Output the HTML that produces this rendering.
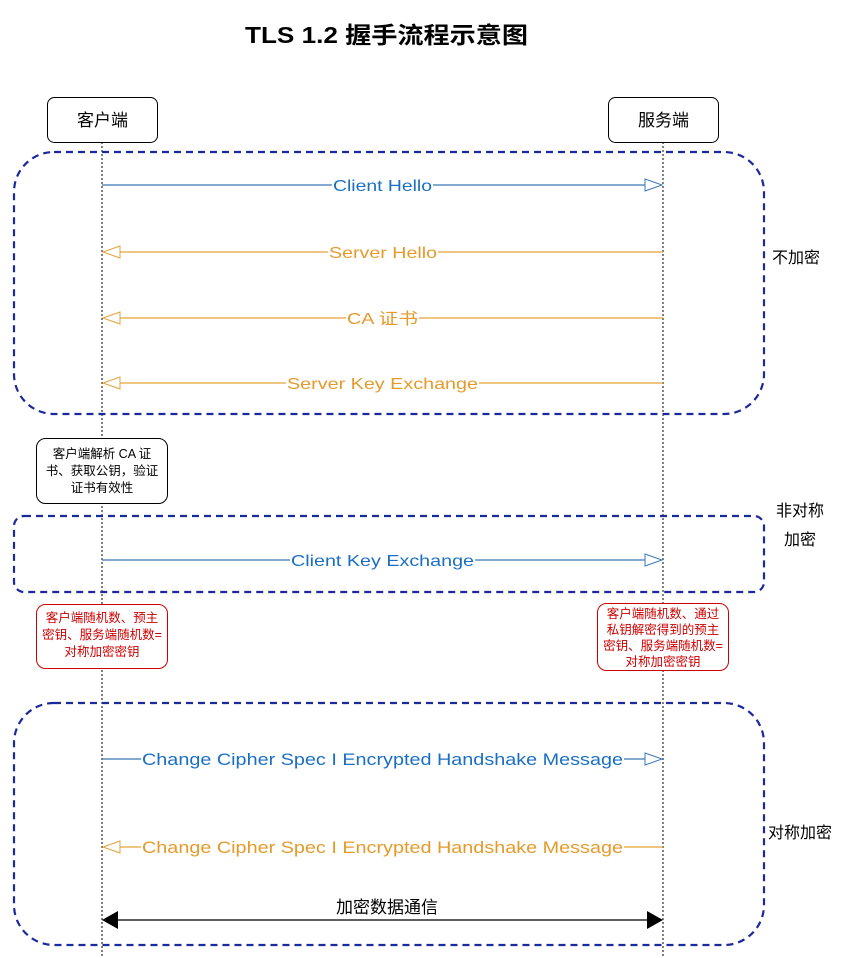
<!DOCTYPE html>
<html><head><meta charset="utf-8"><style>
html,body{margin:0;padding:0;background:#fff;}
svg{display:block;}
text{font-family:"Liberation Sans","Noto Sans CJK SC",sans-serif;}
</style></head><body>
<svg width="861" height="958" viewBox="0 0 861 958" xmlns="http://www.w3.org/2000/svg">
<text x="245" y="43" font-size="23" font-weight="bold" fill="#000" textLength="283" lengthAdjust="spacingAndGlyphs">TLS 1.2 握手流程示意图</text>

<!-- lifelines -->
<line x1="102" y1="142" x2="102" y2="958" stroke="#000" stroke-width="1" stroke-dasharray="2,2"/>
<line x1="663" y1="142" x2="663" y2="958" stroke="#000" stroke-width="1" stroke-dasharray="2,2"/>

<!-- participants -->
<rect x="47.5" y="97.5" width="110" height="45" rx="7" fill="#fff" stroke="#000"/>
<text x="102.5" y="126" text-anchor="middle" font-size="17">客户端</text>
<rect x="608.5" y="97.5" width="110" height="45" rx="7" fill="#fff" stroke="#000"/>
<text x="663.5" y="126" text-anchor="middle" font-size="17">服务端</text>

<!-- groups -->
<g fill="none" stroke="#1a2a9c" stroke-width="2.2" stroke-dasharray="7,5">
<rect x="14" y="152" width="750" height="262" rx="40"/>
<rect x="14" y="516" width="750" height="76" rx="10"/>
<rect x="14" y="703" width="750" height="242" rx="40"/>
</g>
<text x="772" y="263" font-size="16">不加密</text>
<text x="800" y="516" text-anchor="middle" font-size="16">非对称</text>
<text x="800" y="545" text-anchor="middle" font-size="16">加密</text>
<text x="768" y="838" font-size="16">对称加密</text>

<!-- Client Hello -->
<line x1="102" y1="185" x2="645" y2="185" stroke="#3a78b8" stroke-width="1.2"/>
<polygon points="645,179 662,185 645,191" fill="#fff" stroke="#3a78b8"/>
<rect x="332" y="176" width="101" height="18" fill="#fff"/>
<text x="333" y="191" font-size="16" fill="#1a6fc4" textLength="99" lengthAdjust="spacingAndGlyphs">Client Hello</text>

<!-- Server Hello -->
<line x1="120" y1="252" x2="663" y2="252" stroke="#e5a23a" stroke-width="1.2"/>
<polygon points="120,246 103,252 120,258" fill="#fff" stroke="#e5a23a"/>
<rect x="328" y="243" width="110" height="18" fill="#fff"/>
<text x="329" y="258" font-size="16" fill="#e59a2a" textLength="108" lengthAdjust="spacingAndGlyphs">Server Hello</text>

<!-- CA -->
<line x1="120" y1="318" x2="663" y2="318" stroke="#e5a23a" stroke-width="1.2"/>
<polygon points="120,312 103,318 120,324" fill="#fff" stroke="#e5a23a"/>
<rect x="346" y="309" width="73" height="18" fill="#fff"/>
<text x="347" y="324" font-size="16" fill="#e59a2a" textLength="71" lengthAdjust="spacingAndGlyphs">CA 证书</text>

<!-- Server Key Exchange -->
<line x1="120" y1="383" x2="663" y2="383" stroke="#e5a23a" stroke-width="1.2"/>
<polygon points="120,377 103,383 120,389" fill="#fff" stroke="#e5a23a"/>
<rect x="286" y="374" width="193" height="18" fill="#fff"/>
<text x="287" y="389" font-size="16" fill="#e59a2a" textLength="191" lengthAdjust="spacingAndGlyphs">Server Key Exchange</text>

<!-- note -->
<rect x="36.5" y="438.5" width="131" height="65" rx="9" fill="#fff" stroke="#000"/>
<text x="102" y="458" text-anchor="middle" font-size="12.5">客户端解析 CA 证</text>
<text x="102" y="475" text-anchor="middle" font-size="12.5">书、获取公钥，验证</text>
<text x="102" y="492" text-anchor="middle" font-size="12.5">证书有效性</text>

<!-- Client Key Exchange -->
<line x1="102" y1="560" x2="645" y2="560" stroke="#3a78b8" stroke-width="1.2"/>
<polygon points="645,554 662,560 645,566" fill="#fff" stroke="#3a78b8"/>
<rect x="290" y="551" width="185" height="18" fill="#fff"/>
<text x="291" y="566" font-size="16" fill="#1a6fc4" textLength="183" lengthAdjust="spacingAndGlyphs">Client Key Exchange</text>

<!-- red notes -->
<rect x="36.5" y="604.5" width="131" height="64" rx="9" fill="#fff" stroke="#cc0000"/>
<text x="102" y="622" text-anchor="middle" font-size="12.5" fill="#cc0000">客户端随机数、预主</text>
<text x="102" y="639" text-anchor="middle" font-size="12.5" fill="#cc0000">密钥、服务端随机数=</text>
<text x="102" y="656" text-anchor="middle" font-size="12.5" fill="#cc0000">对称加密密钥</text>

<rect x="597.5" y="603.5" width="131" height="67" rx="9" fill="#fff" stroke="#cc0000"/>
<text x="663" y="618" text-anchor="middle" font-size="12.5" fill="#cc0000">客户端随机数、通过</text>
<text x="663" y="634" text-anchor="middle" font-size="12.5" fill="#cc0000">私钥解密得到的预主</text>
<text x="663" y="650" text-anchor="middle" font-size="12.5" fill="#cc0000">密钥、服务端随机数=</text>
<text x="663" y="666" text-anchor="middle" font-size="12.5" fill="#cc0000">对称加密密钥</text>

<!-- symmetric -->
<line x1="102" y1="759" x2="645" y2="759" stroke="#3a78b8" stroke-width="1.2"/>
<polygon points="645,753 662,759 645,765" fill="#fff" stroke="#3a78b8"/>
<rect x="141" y="749" width="483" height="20" fill="#fff"/>
<text x="142" y="765" font-size="17" fill="#1a6fc4" textLength="481" lengthAdjust="spacingAndGlyphs">Change Cipher Spec I Encrypted Handshake Message</text>

<line x1="120" y1="847" x2="663" y2="847" stroke="#e5a23a" stroke-width="1.2"/>
<polygon points="120,841 103,847 120,853" fill="#fff" stroke="#e5a23a"/>
<rect x="141" y="837" width="483" height="20" fill="#fff"/>
<text x="142" y="853" font-size="17" fill="#e59a2a" textLength="481" lengthAdjust="spacingAndGlyphs">Change Cipher Spec I Encrypted Handshake Message</text>

<line x1="118" y1="920" x2="647" y2="920" stroke="#000" stroke-width="1.2"/>
<polygon points="118,911 102,920 118,929" fill="#000"/>
<polygon points="647,911 663,920 647,929" fill="#000"/>
<text x="387" y="913" text-anchor="middle" font-size="17">加密数据通信</text>
</svg>
</body></html>
